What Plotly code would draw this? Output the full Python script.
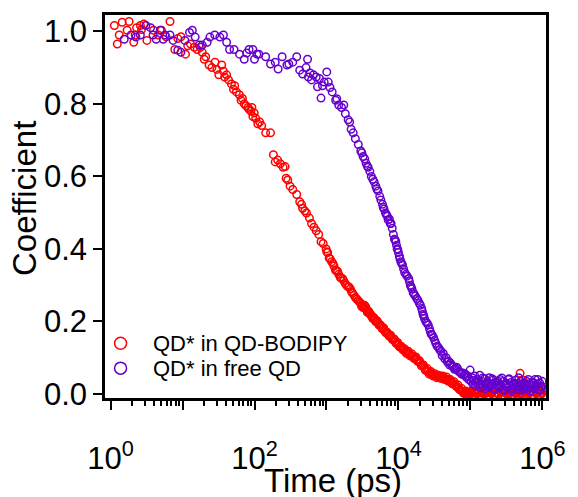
import plotly.graph_objects as go

# ---- QD* in QD-BODIPY (time in ps, coefficient) ----
t_bodipy = [
    1.13, 1.24, 1.32, 1.45, 1.7, 1.81, 2.1, 2.2, 2.3, 2.6, 2.7, 2.9, 3.2, 3.95, 4.6, 5.1,
    5.9, 6.7, 7.8, 8.6, 9.5, 11, 11.8, 12.9, 14.6, 16, 17.7, 18.8, 20, 21, 23.4, 25.6,
    28.3, 30, 31.9, 35, 37, 38.5, 41, 43.6, 47.8, 51, 53, 56, 61.7, 65, 68, 72, 76, 81,
    84, 89, 92, 95, 99, 104, 111, 118, 126, 143, 167, 183, 194, 210, 228, 250, 266, 275,
    290, 312, 340, 386, 425, 450, 466, 500, 528, 580, 620, 670, 720, 780, 840, 900, 990,
    1040, 1090, 1180, 1270, 1370, 1480, 1600, 1740, 1900, 2050, 2150, 2300, 2520, 2750,
    3000, 3070, 3150, 3300, 3380, 3450, 3600, 3800, 3950, 4100, 4300, 4500, 4700, 4950,
    5200, 5500, 5800, 6100, 6400, 6800, 7200, 7600, 8000, 8500, 9000, 9500, 10000, 10600,
    11200, 11800, 12500, 13300, 14100, 15000, 16000, 17000, 18000, 19000, 20200, 21500,
    23000, 24500, 26000, 27500, 29000, 31000, 33000, 35000, 37500, 40000, 42500, 45000,
    48000, 51000, 54000, 57500, 61000, 65000, 69000, 73500, 78000, 83000,
    88000, 92000, 96000, 100000, 105000, 110000, 116000, 122000, 128000, 135000, 142000,
    150000, 158000, 167000, 176000, 186000, 197000, 208000, 220000, 233000, 246000,
    260000, 275000, 291000, 308000, 326000, 345000, 365000, 386000, 408000, 432000,
    457000, 484000, 490000, 512000, 537000, 542000, 574000, 608000, 644000, 682000,
    722000, 765000, 810000, 858000, 909000, 963000, 1000000,
    1010, 1130, 1230, 1330, 1430, 1550, 1680, 1820, 1980, 2230, 2420, 2630, 2860, 3220,
    3520, 3700, 3880, 4200, 4400, 4600, 4820, 5050, 5350, 5650, 5950, 6250, 6600, 7000,
    7400, 7800, 8250, 8750, 9250, 9750, 10300, 10900, 11500, 12100, 12900, 13700, 14500,
    15500, 16500, 17500, 18500, 19600, 20800, 22200, 23700, 25200, 26700, 28200, 30000,
    32000, 34000, 36200, 38700, 41200, 43700, 46500, 49500, 52500, 55700, 59200, 63000,
    67000, 71000, 75800, 80500, 85500, 90000, 94000,
    103000, 113000, 125000, 139000, 154000, 171000, 191000, 214000, 240000, 268000,
    300000, 335000, 375000, 420000, 470000, 525000, 590000, 660000, 740000, 830000,
    930000, 980000,
]
c_bodipy = [
    1.016, 0.965, 0.99, 1.025, 1.003, 1.027, 0.97, 0.99, 1.01, 1.016, 1.005, 1.02, 0.975,
    1.003, 0.99, 1.003, 0.985, 1.027, 0.95, 0.98, 0.985, 0.937, 0.96, 0.965, 0.956, 0.95,
    0.956, 0.942, 0.923, 0.93, 0.907, 0.9, 0.915, 0.895, 0.88, 0.907, 0.89, 0.874, 0.88,
    0.866, 0.855, 0.84, 0.85, 0.833, 0.825, 0.81, 0.815, 0.8, 0.795, 0.79, 0.785, 0.78,
    0.79, 0.765, 0.775, 0.76, 0.745, 0.75, 0.74, 0.72, 0.72, 0.66, 0.64, 0.645, 0.635,
    0.625, 0.627, 0.595, 0.59, 0.573, 0.564, 0.55, 0.53, 0.523, 0.512, 0.505, 0.499,
    0.485, 0.47, 0.46, 0.45, 0.44, 0.42, 0.415, 0.4, 0.39, 0.375, 0.365, 0.353, 0.34,
    0.33, 0.32, 0.312, 0.3, 0.295, 0.29, 0.278, 0.266, 0.258,
    0.25, 0.242, 0.245, 0.24, 0.245, 0.236, 0.232, 0.226, 0.222, 0.22, 0.214, 0.21, 0.205,
    0.2, 0.196, 0.19, 0.185, 0.18, 0.175, 0.168, 0.165, 0.16, 0.155, 0.15, 0.145, 0.14,
    0.135, 0.13, 0.127, 0.122, 0.118, 0.115, 0.11, 0.107, 0.103, 0.1, 0.095, 0.09, 0.085,
    0.08, 0.072, 0.066, 0.062, 0.058, 0.055, 0.052, 0.05, 0.048, 0.047, 0.045, 0.046,
    0.042, 0.04, 0.037, 0.033, 0.03, 0.026, 0.02, 0.015, 0.01, 0.006, 0.003,
    0.0, 0.006, -0.003, 0.004, 0.009, -0.002, 0.005, 0.001, 0.008, -0.004, 0.003, 0.007,
    0.0, 0.004, -0.003, 0.006, 0.002, 0.009, -0.002, 0.004, 0.001, 0.007, -0.004, 0.005,
    0.002, 0.008, 0.0, 0.005, -0.003, 0.006, 0.002, 0.009, 0.001, 0.057, 0.004, 0.038,
    -0.002, 0.006, 0.012, 0.001, 0.007, -0.003, 0.005, 0.01, 0.002, 0.008, 0.004, 0.011,
    0.392, 0.372, 0.36, 0.342, 0.338, 0.322, 0.318, 0.305, 0.296, 0.282, 0.272, 0.262,
    0.254, 0.238, 0.24, 0.225, 0.228, 0.215, 0.208, 0.21, 0.2, 0.202, 0.19, 0.19, 0.18,
    0.182, 0.17, 0.17, 0.16, 0.162, 0.15, 0.152, 0.14, 0.142, 0.13, 0.132, 0.122, 0.125,
    0.112, 0.118, 0.105, 0.11, 0.098, 0.102, 0.09, 0.092, 0.078, 0.08, 0.065, 0.07, 0.055,
    0.062, 0.05, 0.056, 0.045, 0.052, 0.043, 0.05, 0.04, 0.047, 0.035, 0.04, 0.028, 0.034,
    0.022, 0.025, 0.012, 0.015, 0.002, 0.008, -0.004, 0.003,
    0.002, -0.005, 0.004, -0.002, 0.005, -0.004, 0.003, -0.003, 0.002, 0.006, -0.005,
    0.003, -0.002, 0.004, -0.004, 0.002, -0.003, 0.004, -0.002, 0.003, -0.004, 0.001,
]

# ---- QD* in free QD (time in ps, coefficient) ----
t_free = [
    1.55, 1.93, 2.25, 2.6, 3.1, 3.6, 3.9, 4.3, 4.9, 5.4, 5.7, 6.7, 7.4, 8.6, 9.5, 10.8,
    12.5, 13.7, 15, 17, 18.8, 22, 24, 28, 33, 37, 41, 45, 52, 62, 72, 78, 84, 95, 100,
    108, 115, 143, 167, 194, 213, 242, 282, 300, 340, 386, 425, 466, 520, 546, 560, 590,
    620, 660, 720, 750, 800, 840, 880, 930, 1010, 1060, 1120, 1200, 1340, 1390, 1480,
    1620, 1740, 1830, 2000, 2100, 2200, 2350, 2520, 2770, 3000, 3230, 3550, 3800, 4000,
    4400, 4850, 5200, 5500, 6000, 6300, 6600, 7000, 7500, 7900, 8200, 8800, 9200, 9600,
    10000, 10500, 11100, 11800, 12700, 13900, 14600, 15400, 16500, 18000, 19500, 21000,
    22000, 23000, 25000, 27000, 28500, 30700, 33000, 36000, 39000, 42000, 46000, 50000,
    53000, 58000, 62000, 66000, 72000, 78000, 85000, 92000, 99000, 106000, 111000,
    115000, 120000, 125000, 130000, 135000, 140000, 145000, 151000, 157000, 163000,
    170000, 176000, 183000, 190000, 197000, 205000, 213000, 221000, 230000, 239000,
    248000, 258000, 268000, 279000, 290000, 301000, 313000, 325000, 338000, 351000,
    365000, 379000, 394000, 409000, 425000, 442000, 460000, 478000, 497000, 516000,
    540000, 560000, 580000, 602000, 625000, 650000, 675000, 702000, 730000, 760000,
    790000, 820000, 850000, 885000, 920000, 955000, 990000,
    3100, 3400, 3700, 4200, 4600, 5000, 5700, 6150, 6800, 7200, 7700, 8500, 9000, 9400,
    9800, 10300, 10800, 11400, 12200, 13200, 14200, 15000, 16000, 17200, 18700, 20200,
    21500, 22500, 24000, 26000, 27800, 29500, 31800, 34500, 37500, 40500, 44000, 48000,
    51500, 55500, 60000, 64000, 69000, 75000, 81000, 88000, 95000, 102000, 108000,
    118000, 128000, 138000, 148000, 160000, 173000, 187000, 201000, 217000, 235000,
    253000, 273000, 296000, 319000, 344000, 372000, 402000, 434000, 469000, 506000,
    547000, 590000, 637000, 688000, 743000, 803000, 867000, 936000, 980000,
]
c_free = [
    0.978, 0.99, 0.984, 0.99, 1.016, 1.01, 0.99, 0.978, 1.003, 0.978, 0.99, 0.99, 0.975,
    0.948, 0.942, 0.975, 0.997, 1.003, 0.984, 0.962, 0.962, 0.97, 0.984, 0.99, 0.984,
    0.99, 0.97, 0.95, 0.95, 0.937, 0.923, 0.94, 0.95, 0.95, 0.923, 0.937, 0.937, 0.93,
    0.91, 0.915, 0.896, 0.93, 0.907, 0.91, 0.915, 0.93, 0.893, 0.882, 0.9, 0.923, 0.874,
    0.885, 0.866, 0.88, 0.874, 0.847, 0.87, 0.816, 0.85, 0.86, 0.888, 0.86, 0.845, 0.833,
    0.81, 0.814, 0.797, 0.79, 0.797, 0.773, 0.756, 0.75, 0.73, 0.72, 0.704, 0.688, 0.67,
    0.655, 0.636, 0.625, 0.614, 0.592, 0.573, 0.56, 0.545, 0.523, 0.51, 0.499, 0.49,
    0.482, 0.47, 0.457, 0.427, 0.42, 0.4, 0.39, 0.373, 0.36, 0.345, 0.33, 0.318, 0.3,
    0.29, 0.275, 0.263, 0.25, 0.236, 0.22, 0.208, 0.195, 0.18, 0.165, 0.156, 0.14, 0.128,
    0.118, 0.112, 0.1, 0.09, 0.085, 0.075, 0.07, 0.071, 0.06, 0.058, 0.055, 0.05, 0.066,
    0.045, 0.038, 0.05, 0.032, 0.04, 0.026, 0.052, 0.03, 0.035, 0.02, 0.042, 0.028,
    0.03, 0.018, 0.045, 0.024, 0.028, 0.038, 0.015, 0.032, 0.025, 0.036, 0.02, 0.04,
    0.022, 0.012, 0.035, 0.027, 0.03, 0.018, 0.04, 0.022, 0.032, 0.015, 0.028, 0.025,
    0.038, 0.012, 0.03, 0.02, 0.035, 0.024, 0.015, 0.03, 0.022, 0.035, 0.012, 0.028,
    0.018, 0.025, 0.033, 0.015, 0.04, 0.022, 0.028, 0.012, 0.03, 0.02, 0.035,
    0.665, 0.648, 0.628, 0.6, 0.585, 0.565, 0.535, 0.515, 0.495, 0.48, 0.47, 0.44, 0.425,
    0.41, 0.398, 0.38, 0.365, 0.356, 0.335, 0.325, 0.31, 0.295, 0.28, 0.27, 0.258, 0.245,
    0.228, 0.215, 0.2, 0.19, 0.172, 0.162, 0.148, 0.132, 0.122, 0.106, 0.097, 0.088, 0.08,
    0.078, 0.068, 0.074, 0.062, 0.055, 0.052, 0.046, 0.04, 0.035, 0.028, 0.022, 0.036,
    0.018, 0.044, 0.015, 0.034, 0.02, 0.042, 0.012, 0.032, 0.018, 0.044, 0.01, 0.025,
    0.042, 0.008, 0.03, 0.02, 0.045, 0.01, 0.028, 0.015, 0.04, 0.008, 0.03, 0.018, 0.04,
    0.01, 0.02,
]

series_names = ["QD* in QD-BODIPY", "QD* in free QD"]
series_colors = ["#FF0000", "#6600CC"]

x_tick_vals = [1, 10, 100, 1e3, 1e4, 1e5, 1e6]
x_tick_text = ["10<sup>0</sup>", "", "10<sup>2</sup>", "", "10<sup>4</sup>", "", "10<sup>6</sup>"]
y_tick_vals = [0.0, 0.2, 0.4, 0.6, 0.8, 1.0]

FONT = "Liberation Sans, Arial, sans-serif"

fig = go.Figure()
for t, c, name, color in [
    (t_bodipy, c_bodipy, series_names[0], series_colors[0]),
    (t_free, c_free, series_names[1], series_colors[1]),
]:
    fig.add_trace(go.Scatter(
        x=t, y=c, mode="markers", name=name, showlegend=False,
        marker=dict(symbol="circle-open", size=7.5, color=color, line=dict(width=1.5, color=color)),
    ))

minor_vals = [k * 10 ** d for d in range(0, 6) for k in range(2, 10)]

fig.update_xaxes(
    type="log", range=[-0.077, 6.05],
    tickvals=x_tick_vals, ticktext=x_tick_text,
    ticks="outside", ticklen=9, tickwidth=2, tickcolor="black",
    minor=dict(tickvals=minor_vals, ticks="outside", ticklen=5, tickwidth=1.5, tickcolor="black"),
    showline=True, linewidth=2.5, linecolor="black", mirror=True,
    showgrid=False, zeroline=False,
    tickfont=dict(family=FONT, size=31, color="black"),
    ticklabelstandoff=22,
)
fig.update_yaxes(
    range=[-0.011, 1.045], tickvals=y_tick_vals, tickformat=".1f",
    ticks="outside", ticklen=9, tickwidth=2, tickcolor="black",
    showline=True, linewidth=2.5, linecolor="black", mirror=True,
    showgrid=False, zeroline=False,
    tickfont=dict(family=FONT, size=31, color="black"),
)

# legend drawn as circle glyphs plus text labels
legend_rows = [0.143, 0.078]
shapes = []
annotations = []
for yrow, name, color in zip(legend_rows, series_names, series_colors):
    shapes.append(dict(
        type="circle", xref="paper", yref="paper", xsizemode="pixel", ysizemode="pixel",
        xanchor=0.0353, yanchor=yrow, x0=-6, x1=6, y0=-6, y1=6,
        line=dict(color=color, width=1.5),
    ))
    annotations.append(dict(
        x=0.1038, y=yrow, xref="paper", yref="paper", xanchor="left", yanchor="middle",
        text=name, showarrow=False, font=dict(family=FONT, size=22, color="black"),
    ))

annotations.append(dict(
    x=0.516, y=-0.215, xref="paper", yref="paper", xanchor="center", yanchor="middle",
    text="Time (ps)", showarrow=False, font=dict(family=FONT, size=33, color="black"),
))
annotations.append(dict(
    x=-0.181, y=0.52, xref="paper", yref="paper", xanchor="center", yanchor="middle",
    text="Coefficient", textangle=-90, showarrow=False,
    font=dict(family=FONT, size=33, color="black"),
))

fig.update_layout(
    width=578, height=497,
    margin=dict(l=105, r=20, t=13, b=99),
    plot_bgcolor="white", paper_bgcolor="white",
    shapes=shapes, annotations=annotations,
    showlegend=False,
)

fig.write_html("out.html")
